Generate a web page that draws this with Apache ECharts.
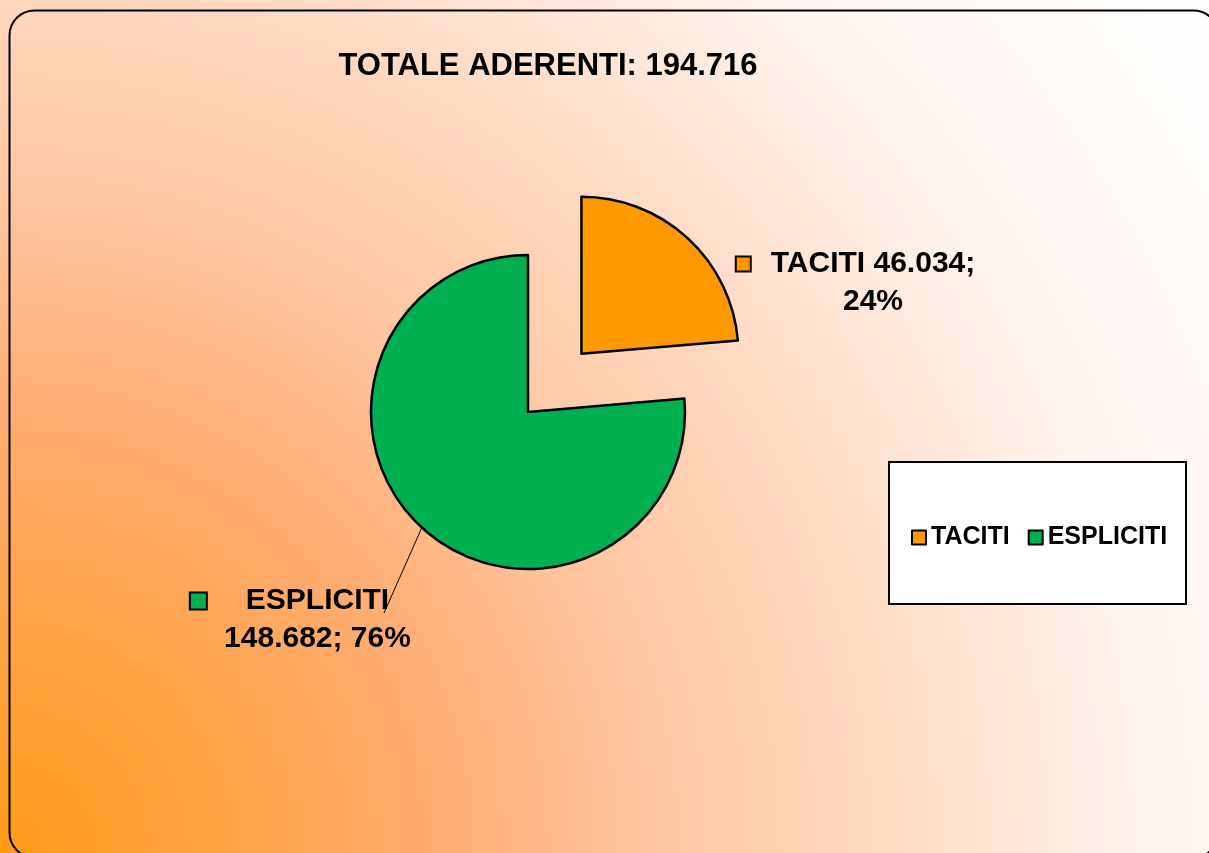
<!DOCTYPE html>
<html>
<head>
<meta charset="utf-8">
<script src="https://cdn.jsdelivr.net/npm/echarts@6/dist/echarts.min.js"></script>
<style>
html,body{margin:0;padding:0;background:#fff;}
#c{width:1209px;height:853px;}
</style>
</head>
<body>
<div id="c"></div>
<script>
// ---- data ----
const categories = ['TACITI', 'ESPLICITI'];
const values = [46034, 148682];
const titleText = 'TOTALE ADERENTI: 194.716';
const colors = ['#FF9900', '#00B050'];

const FONT = '"Liberation Sans", Arial, sans-serif';
const total = values.reduce((a, b) => a + b, 0);
function fmt(n) { return String(n).replace(/\B(?=(\d{3})+(?!\d))/g, '.'); }
function pct(v) { return Math.round(v / total * 100); }

// pie geometry (layout)
const CENTER = [528, 412];
const RADIUS = 157;
const EXPLODE = 79;
// exploded slice (first category) moves along its mid angle
const midDeg = 360 * (values[0] / total) / 2;            // clockwise from 12 o'clock
const midRad = midDeg * Math.PI / 180;
const CENTER_EXPLODED = [CENTER[0] + EXPLODE * Math.sin(midRad), CENTER[1] - EXPLODE * Math.cos(midRad)];

const chart = echarts.init(document.getElementById('c'), null, { renderer: 'canvas' });

const LH = 38;
const rich = {
  t: { fontFamily: FONT, fontWeight: 'bold', fontSize: 30, color: '#000', lineHeight: LH, align: 'center' },
  sq0: { width: 13, height: 13, backgroundColor: colors[0], borderColor: '#000', borderWidth: 2, lineHeight: LH, align: 'center' },
  g0: { width: 21, height: 1, lineHeight: LH, align: 'center' },
  p0: { width: 34, height: 1, lineHeight: LH, align: 'center' },
  sq1: { width: 15, height: 15, backgroundColor: colors[1], borderColor: '#000', borderWidth: 2, lineHeight: LH, align: 'center' },
  g1: { width: 40, height: 1, lineHeight: LH, align: 'center' },
  p1: { width: 55, height: 1, lineHeight: LH, align: 'center' }
};

function labelFormatter(p) {
  const i = p.dataIndex;
  if (i === 0) {
    return '{sq0|}{g0|}{t|' + p.name + ' ' + fmt(p.value) + ';}\n{p0|}{t|' + pct(p.value) + '%}';
  }
  return '{sq1|}{g1|}{t|' + p.name + '}\n{p1|}{t|' + fmt(p.value) + '; ' + pct(p.value) + '%}';
}

function pieData(visibleIndex) {
  return categories.map((n, i) => {
    if (i === visibleIndex) {
      return {
        name: n, value: values[i],
        itemStyle: { color: colors[i], borderColor: '#000', borderWidth: 2.5 }
      };
    }
    return {
      name: n, value: values[i],
      itemStyle: { color: 'rgba(0,0,0,0)', borderWidth: 0 },
      label: { show: false }, labelLine: { show: false }
    };
  });
}

const baseSeries = {
  type: 'pie',
  radius: RADIUS,
  startAngle: 90,
  clockwise: true,
  avoidLabelOverlap: false,
  silent: true,
  emphasis: { disabled: true },
  label: { show: true, position: 'outside', formatter: labelFormatter, rich: rich },
  labelLine: { show: true, length: 20, length2: 10, lineStyle: { color: '#000', width: 1 } }
};

const option = {
  animation: false,
  graphic: {
    elements: [
      {
        type: 'rect', z: -100, silent: true,
        shape: { x: 0, y: 0, width: 1209, height: 853 },
        style: {
          fill: {
            type: 'radial', x: 0, y: 853, r: 1480, global: true,
            colorStops: [
              { offset: 0, color: '#FF9A18' },
              { offset: 0.29, color: '#FFAC70' },
              { offset: 0.44, color: '#FFC6A0' },
              { offset: 0.55, color: '#FFD3B6' },
              { offset: 0.78, color: '#FFF5F0' },
              { offset: 1, color: '#FFFFFF' }
            ]
          }
        }
      },
      {
        type: 'rect', z: 1, silent: true,
        shape: { x: 9.5, y: 10.5, width: 1209, height: 847, r: 25 },
        style: { fill: 'none', stroke: '#000', lineWidth: 2 }
      },
      {
        type: 'rect', z: 3, silent: true,
        shape: { x: 889, y: 462, width: 297, height: 142 },
        style: { fill: '#fff', stroke: '#000', lineWidth: 2 }
      },
      {
        type: 'text', z: 10, silent: true,
        x: 548, y: 66,
        style: {
          text: titleText, align: 'center', verticalAlign: 'middle',
          fontFamily: FONT, fontWeight: 'bold', fontSize: 31, fill: '#000'
        }
      }
    ]
  },
  legend: {
    left: 906, top: 520,
    orient: 'horizontal',
    icon: 'rect',
    itemWidth: 14, itemHeight: 14, itemGap: 18,
    selectedMode: false,
    textStyle: { fontFamily: FONT, fontWeight: 'bold', fontSize: 25, color: '#000' },
    data: categories.map((n, i) => ({
      name: n,
      itemStyle: { color: colors[i], borderColor: '#000', borderWidth: 2 }
    })),
    z: 5
  },
  series: [
    Object.assign({}, baseSeries, {
      name: 'exploded',
      center: CENTER_EXPLODED,
      data: pieData(0),
      labelLine: { show: false },
      labelLayout: function (params) {
        return { x: 856, y: 245, align: 'center', verticalAlign: 'top' };
      }
    }),
    Object.assign({}, baseSeries, {
      name: 'main',
      center: CENTER,
      data: pieData(1),
      labelLayout: function (params) {
        const start = params.labelLinePoints ? params.labelLinePoints[0] : [424, 530];
        return {
          x: 290, y: 582, align: 'center', verticalAlign: 'top',
          labelLinePoints: [start, [384, 613], [384, 613]]
        };
      }
    })
  ]
};
chart.setOption(option);
</script>
</body>
</html>
